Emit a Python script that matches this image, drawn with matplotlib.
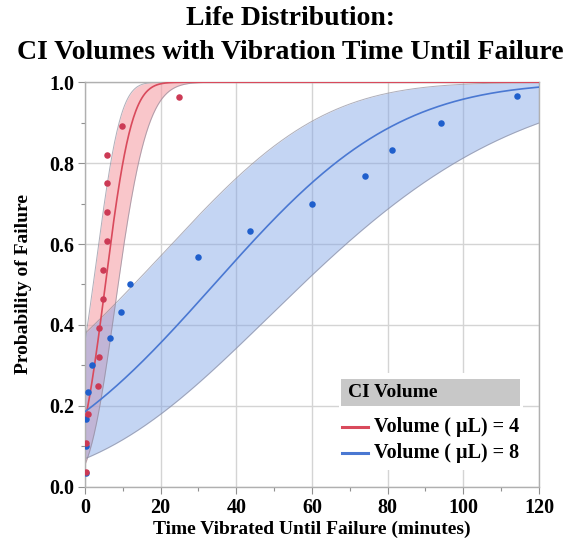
import numpy as np
import matplotlib
matplotlib.use("Agg")
import matplotlib.pyplot as plt
from matplotlib.patches import Rectangle
from matplotlib.lines import Line2D
from math import erf, sqrt

# ---- data ----
red_times = [0.35, 0.35, 0.8, 3.4, 3.6, 3.6, 4.7, 4.7, 5.75, 5.75, 5.75, 5.75, 9.7, 24.8]
red_prob = [0.036, 0.107, 0.179, 0.250, 0.321, 0.393, 0.464, 0.536, 0.607, 0.679, 0.750, 0.821, 0.893, 0.964]

blue_times = [0.35, 0.35, 0.35, 0.8, 1.9, 6.7, 9.6, 11.9, 29.9, 43.5, 60.1, 74.0, 81.1, 94.1, 114.1]
blue_prob = [0.033, 0.100, 0.167, 0.233, 0.300, 0.367, 0.433, 0.500, 0.567, 0.633, 0.700, 0.767, 0.833, 0.900, 0.967]

# Normal fit parameters (location, scale) and covariance (var_mu, var_sigma, cov)
red_fit = (5.38, 5.48)
red_cov = (2.6, 0.6, 0.1)
blue_fit = (34.1, 38.1)
blue_cov = (115.0, 40.0, 9.5)

series_labels = ["Volume ( \u00b5L) = 4", "Volume ( \u00b5L) = 8"]
legend_title = "CI Volume"
x_ticks = [0, 20, 40, 60, 80, 100, 120]
y_ticks = [0.0, 0.2, 0.4, 0.6, 0.8, 1.0]

red_line = "#d94a5c"
red_fill = "#f6a0a8"
red_pt = "#cc3a55"
blue_line = "#4a78d2"
blue_fill = "#7ea2e6"
blue_pt = "#1f5fcc"

Phi = np.vectorize(lambda z: 0.5 * (1.0 + erf(z / sqrt(2.0))))

def fit_curves(fit, cov, t):
    mu, sg = fit
    vm, vs, c = cov
    z = (t - mu) / sg
    se = np.sqrt(vm + z * z * vs + 2 * z * c) / sg
    return Phi(z), Phi(z - 1.96 * se), Phi(z + 1.96 * se)

serif = ["Liberation Serif", "DejaVu Serif"]

fig = plt.figure(figsize=(5.81, 5.52), dpi=100)
ax = fig.add_axes([0.1463, 0.1183, 0.7814, 0.7327])

t = np.linspace(0, 120, 600)
for fit, cov, lc, fc, a in [(red_fit, red_cov, red_line, red_fill, 0.6),
                            (blue_fit, blue_cov, blue_line, blue_fill, 0.45)]:
    F, lo, hi = fit_curves(fit, cov, t)
    ax.fill_between(t, lo, hi, color=fc, alpha=a, lw=0, zorder=2)
    ax.plot(t, lo, color="#8c8c9c", lw=0.7, alpha=0.7, zorder=2.5)
    ax.plot(t, hi, color="#8c8c9c", lw=0.7, alpha=0.7, zorder=2.5)
    ax.plot(t, F, color=lc, lw=1.2, zorder=3)

ax.scatter(blue_times, blue_prob, s=22, color=blue_pt, zorder=4, lw=0)
ax.scatter(red_times, red_prob, s=22, color=red_pt, zorder=4.5, lw=0)

ax.set_xlim(0, 120)
ax.set_ylim(0, 1.0)
ax.set_xticks(x_ticks)
ax.set_yticks(y_ticks)
ax.set_xticks(np.arange(10, 120, 20), minor=True)
ax.set_yticks(np.arange(0.1, 1.0, 0.2), minor=True)
ax.set_xticklabels([str(v) for v in x_ticks], fontfamily=serif, fontweight="bold", fontsize=14.5)
ax.set_yticklabels([f"{v:.1f}" for v in y_ticks], fontfamily=serif, fontweight="bold", fontsize=14.5)
ax.grid(True, which="major", color="#d4d4d4", lw=1.0, zorder=0)
ax.set_axisbelow(True)
for s in ax.spines.values():
    s.set_color("#b0b0b0")
    s.set_linewidth(1.0)
ax.tick_params(which="both", direction="out", color="#909090", length=5, width=0.8, pad=3)
ax.tick_params(which="minor", length=3)

ax.set_xlabel("Time Vibrated Until Failure (minutes)", fontfamily=serif, fontweight="bold", fontsize=14, labelpad=2)
ax.set_ylabel("Probability of Failure", fontfamily=serif, fontweight="bold", fontsize=14, labelpad=12)

fig.text(0.5, 0.967, "Life Distribution:", ha="center", va="center", fontfamily=serif, fontweight="bold", fontsize=20)
fig.text(0.5, 0.905, "CI Volumes with Vibration Time Until Failure", ha="center", va="center",
         fontfamily=serif, fontweight="bold", fontsize=20)

# legend box
ax.add_patch(Rectangle((0.56, 0.041), 0.405, 0.24, transform=ax.transAxes, facecolor="white",
                       edgecolor="none", zorder=6))
ax.add_patch(Rectangle((0.564, 0.1996), 0.394, 0.0664, transform=ax.transAxes, facecolor="#c8c8c8",
                       edgecolor="none", zorder=7))
ax.text(0.579, 0.232, legend_title, transform=ax.transAxes, ha="left", va="center",
        fontfamily=serif, fontweight="bold", fontsize=14, zorder=8)
for yy, col, lab in [(0.148, red_line, series_labels[0]), (0.083, blue_line, series_labels[1])]:
    ax.add_line(Line2D([0.566, 0.623], [yy, yy], transform=ax.transAxes, color=col, lw=2.2, zorder=8))
    ax.text(0.637, yy, lab, transform=ax.transAxes, ha="left", va="center",
            fontfamily=serif, fontweight="bold", fontsize=14.5, zorder=8)

fig.savefig("out.png", dpi=100)
